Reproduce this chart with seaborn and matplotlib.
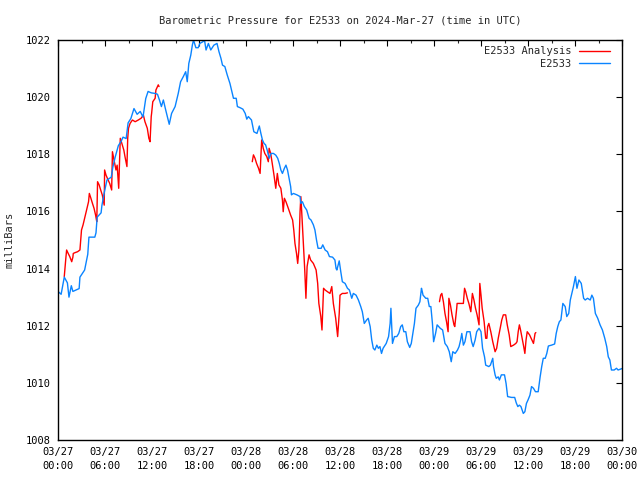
import numpy as np
import pandas as pd
import matplotlib
matplotlib.use("Agg")
import matplotlib.pyplot as plt
import matplotlib.dates as mdates
import seaborn as sns

# ---- data: hours since 2024-03-27 00:00 UTC, pressure in mbar ----
obs_hours = [0.0, 0.4, 0.8, 1.2, 1.4, 1.7, 1.9, 2.7, 2.8, 3.4, 3.8, 3.95, 4.7, 4.85, 5.0, 5.5, 5.6, 5.9,
             6.25, 6.8, 7.0, 7.3, 7.7, 8.05, 8.3, 8.7, 8.95, 9.3, 9.7, 10.1, 10.5, 10.85, 11.2, 11.5, 11.9,
             12.4, 12.7, 12.95, 13.2, 13.45, 13.75, 14.2, 14.5, 14.95, 15.35, 15.65, 16.0, 16.3, 16.5, 16.7,
             16.95, 17.15, 17.3, 17.6, 17.9, 18.1, 18.5, 18.7, 18.9, 19.2, 19.5, 19.9, 20.3, 20.55, 20.8,
             21.0, 21.3, 21.6, 21.95, 22.2, 22.4, 22.75, 22.9, 23.25, 23.6, 23.9, 24.1, 24.3, 24.7, 25.0,
             25.4, 25.7, 25.9, 26.1, 26.3, 26.5, 26.7, 26.95, 27.2, 27.5, 27.8, 28.05, 28.25, 28.45, 28.65,
             28.9, 29.1, 29.3, 29.5, 29.7, 29.8, 30.05, 30.5, 30.9, 31.0, 31.2, 31.45, 31.75, 32.05, 32.3,
             32.6, 32.8, 33.0, 33.2, 33.6, 33.8, 34.1, 34.4, 34.65, 35.05, 35.35, 35.5, 35.6, 35.9, 36.1,
             36.3, 36.65, 36.95, 37.2, 37.5, 37.7, 38.05, 38.35, 38.65, 38.85, 39.1, 39.4, 39.6, 39.85,
             40.05, 40.25, 40.45, 40.7, 40.9, 41.1, 41.3, 41.5, 41.9, 42.2, 42.4, 42.5, 42.7, 42.95, 43.25,
             43.5, 43.75, 43.95, 44.15, 44.4, 44.6, 44.9, 45.1, 45.3, 45.5, 45.7, 46.0, 46.2, 46.4, 46.5,
             46.6, 46.95, 47.2, 47.4, 47.6, 47.8, 47.95, 48.2, 48.4, 48.8, 49.1, 49.4, 49.7, 49.95, 50.2,
             50.4, 50.7, 51.0, 51.2, 51.4, 51.55, 51.75, 51.95, 52.2, 52.6, 52.8, 53.0, 53.25, 53.45, 53.75,
             54.0, 54.2, 54.45, 54.6, 55.0, 55.2, 55.5, 55.6, 55.8, 55.95, 56.2, 56.35, 56.6, 57.0, 57.2,
             57.4, 57.9, 58.3, 58.5, 58.7, 58.9, 59.1, 59.4, 59.6, 59.8, 60.0, 60.25, 60.45, 60.7, 60.95,
             61.3, 61.55, 61.75, 61.95, 62.2, 62.4, 62.6, 63.0, 63.4, 63.6, 63.8, 64.0, 64.2, 64.45, 64.75,
             64.95, 65.2, 65.4, 65.6, 65.8, 66.05, 66.25, 66.5, 66.8, 67.1, 67.3, 67.6, 67.95, 68.15, 68.35,
             68.6, 68.9, 69.2, 69.5, 69.8, 70.05, 70.25, 70.45, 70.65, 71.0, 71.3, 71.5, 72.0]
obs_mbar = [1013.2, 1013.1, 1013.7, 1013.5, 1013.0, 1013.4, 1013.2, 1013.3, 1013.7, 1013.95, 1014.5, 1015.1,
            1015.1, 1015.25, 1015.8, 1015.95, 1016.2, 1016.65, 1017.1, 1017.2, 1017.55, 1017.9, 1018.3,
            1018.45, 1018.6, 1018.55, 1019.1, 1019.25, 1019.6, 1019.4, 1019.5, 1019.3, 1019.95, 1020.2,
            1020.15, 1020.13, 1020.1, 1019.9, 1019.67, 1019.9, 1019.55, 1019.05, 1019.43, 1019.67, 1020.13,
            1020.54, 1020.72, 1020.89, 1020.54, 1021.18, 1021.47, 1021.82, 1022.0, 1021.73, 1021.73,
            1021.88, 1021.94, 1022.0, 1021.65, 1021.88, 1021.65, 1021.82, 1021.88, 1021.59, 1021.36,
            1021.12, 1021.07, 1020.78, 1020.48, 1020.19, 1019.96, 1019.96, 1019.67, 1019.63, 1019.58,
            1019.43, 1019.23, 1019.32, 1019.2, 1018.79, 1018.73, 1018.99, 1018.73, 1018.5, 1018.38,
            1018.33, 1018.15, 1017.86, 1018.03, 1018.03, 1017.97, 1017.86, 1017.68, 1017.45, 1017.33,
            1017.51, 1017.62, 1017.45, 1017.16, 1016.87, 1016.58, 1016.63, 1016.58, 1016.52, 1016.28,
            1016.34, 1016.17, 1016.05, 1015.76, 1015.7, 1015.53, 1015.35, 1015.0, 1014.71, 1014.71,
            1014.83, 1014.65, 1014.59, 1014.42, 1014.4, 1014.3, 1014.0, 1013.95, 1014.27, 1013.89, 1013.54,
            1013.48, 1013.31, 1013.25, 1012.96, 1013.13, 1013.07, 1012.9, 1012.67, 1012.49, 1012.08,
            1012.2, 1012.26, 1011.97, 1011.5, 1011.21, 1011.15, 1011.32, 1011.21, 1011.27, 1011.03,
            1011.21, 1011.38, 1011.62, 1012.08, 1012.61, 1011.38, 1011.62, 1011.62, 1011.73, 1011.97,
            1012.03, 1011.79, 1011.79, 1011.44, 1011.24, 1011.38, 1011.73, 1012.08, 1012.61, 1012.72,
            1012.84, 1013.31, 1013.2, 1013.07, 1012.96, 1012.96, 1012.67, 1012.67, 1012.08, 1011.44,
            1011.73, 1012.03, 1011.91, 1011.85, 1011.38, 1011.27, 1011.09, 1010.74, 1011.09, 1011.03,
            1011.15, 1011.27, 1011.5, 1011.73, 1011.32, 1011.44, 1011.79, 1011.79, 1011.44, 1011.27,
            1011.5, 1011.79, 1011.91, 1011.79, 1011.21, 1010.91, 1010.62, 1010.57, 1010.62, 1010.86,
            1010.57, 1010.28, 1010.16, 1010.21, 1010.1, 1010.28, 1010.28, 1009.98, 1009.52, 1009.49,
            1009.49, 1009.3, 1009.17, 1009.22, 1009.17, 1008.93, 1008.99, 1009.28, 1009.4, 1009.57,
            1009.87, 1009.81, 1009.69, 1009.69, 1010.21, 1010.57, 1010.86, 1010.86, 1011.03, 1011.29,
            1011.32, 1011.36, 1011.73, 1011.97, 1012.14, 1012.2, 1012.78, 1012.67, 1012.32, 1012.43,
            1012.9, 1013.13, 1013.37, 1013.72, 1013.31, 1013.6, 1013.48, 1012.96, 1012.9, 1012.96, 1012.9,
            1013.07, 1012.96, 1012.43, 1012.26, 1012.03, 1011.85, 1011.56, 1011.27, 1010.91, 1010.8,
            1010.45, 1010.45, 1010.51, 1010.45, 1010.5]

an1_hours = [0.8, 1.0, 1.1, 1.3, 1.5, 1.75, 1.9, 1.95, 2.2, 2.5, 2.8, 3.0, 3.2, 3.45, 3.65, 3.9, 4.0, 4.2,
             4.4, 4.6, 4.8, 4.95, 5.05, 5.25, 5.45, 5.65, 5.9, 5.95, 6.13, 6.4, 6.6, 6.85, 6.95, 7.15, 7.4,
             7.55, 7.75, 7.95, 8.15, 8.4, 8.55, 8.8, 8.9, 9.0, 9.2, 9.5, 9.85, 10.25, 10.6, 10.9, 11.1, 11.4,
             11.6, 11.75, 11.9, 11.95, 12.1, 12.4, 12.5, 12.8, 12.9]
an1_mbar = [1013.72, 1014.36, 1014.65, 1014.53, 1014.42, 1014.24, 1014.4, 1014.53, 1014.56, 1014.59, 1014.65,
            1015.35, 1015.53, 1015.82, 1016.05, 1016.34, 1016.63, 1016.46, 1016.28, 1016.11, 1015.87,
            1015.64, 1017.04, 1016.93, 1016.75, 1016.58, 1016.22, 1017.45, 1017.27, 1017.1, 1016.98,
            1016.75, 1018.09, 1017.8, 1017.45, 1017.62, 1016.81, 1018.56, 1018.38, 1018.15, 1017.92,
            1017.57, 1018.56, 1018.91, 1019.08, 1019.2, 1019.14, 1019.2, 1019.26, 1019.37, 1019.14,
            1018.91, 1018.56, 1018.44, 1019.32, 1019.43, 1019.84, 1019.96, 1020.25, 1020.43, 1020.37]

an2_hours = [24.8, 24.95, 25.15, 25.35, 25.6, 25.8, 25.9, 26.0, 26.2, 26.4, 26.65, 26.85, 26.95, 27.15,
             27.35, 27.6, 27.8, 28.0, 28.2, 28.45, 28.65, 28.75, 28.9, 29.1, 29.4, 29.7, 29.95, 30.1, 30.25,
             30.45, 30.6, 30.75, 30.9, 31.0, 31.1, 31.3, 31.5, 31.65, 31.8, 32.05, 32.25, 32.6, 32.95, 33.15,
             33.3, 33.55, 33.7, 33.9, 34.1, 34.4, 34.72, 34.95, 35.15, 35.45, 35.7, 35.9, 36.0, 36.3, 36.65,
             36.95]
an2_mbar = [1017.74, 1017.98, 1017.86, 1017.68, 1017.51, 1017.33, 1017.92, 1018.5, 1018.21, 1018.03,
            1017.92, 1017.74, 1018.21, 1018.03, 1017.68, 1017.22, 1016.81, 1017.33, 1016.93, 1016.81,
            1016.4, 1015.99, 1016.46, 1016.34, 1016.11, 1015.87, 1015.7, 1015.35, 1014.88, 1014.53,
            1014.18, 1014.65, 1015.99, 1016.52, 1016.05, 1015.0, 1013.95, 1012.96, 1014.07, 1014.48,
            1014.3, 1014.18, 1013.95, 1013.48, 1012.78, 1012.32, 1011.85, 1013.31, 1013.25, 1013.19,
            1013.13, 1013.37, 1012.78, 1012.26, 1011.62, 1012.43, 1013.07, 1013.13, 1013.13, 1013.15]

an3_hours = [48.7, 48.85, 49.0, 49.2, 49.4, 49.6, 49.8, 49.9, 50.1, 50.3, 50.55, 50.65, 50.9, 50.95, 51.75,
             51.9, 52.05, 52.25, 52.45, 52.7, 52.9, 53.1, 53.3, 53.5, 53.75, 53.85, 54.0, 54.15, 54.4, 54.6,
             54.75, 54.85, 55.0, 55.25, 55.5, 55.8, 56.0, 56.2, 56.45, 56.65, 56.85, 57.15, 57.35, 57.6,
             57.8, 58.15, 58.45, 58.6, 58.75, 58.9, 59.05, 59.25, 59.45, 59.6, 59.75, 59.9, 60.2, 60.5,
             60.7, 60.9, 61.0]
an3_mbar = [1012.84, 1013.07, 1013.13, 1012.84, 1012.43, 1012.14, 1011.79, 1012.96, 1012.72, 1012.38,
            1012.03, 1011.97, 1012.61, 1012.78, 1012.78, 1013.31, 1013.19, 1012.96, 1012.78, 1012.49,
            1013.13, 1012.9, 1012.61, 1012.38, 1012.03, 1013.48, 1013.07, 1012.61, 1012.14, 1011.56,
            1011.56, 1011.97, 1012.08, 1011.79, 1011.44, 1011.09, 1011.21, 1011.56, 1011.91, 1012.2,
            1012.38, 1012.38, 1012.03, 1011.68, 1011.27, 1011.32, 1011.38, 1011.44, 1011.79, 1012.03,
            1011.85, 1011.56, 1011.27, 1011.03, 1011.5, 1011.79, 1011.68, 1011.5, 1011.38, 1011.73,
            1011.76]

start = pd.Timestamp("2024-03-27 00:00")
y_ticks = [1008, 1010, 1012, 1014, 1016, 1018, 1020, 1022]
title = "Barometric Pressure for E2533 on 2024-Mar-27 (time in UTC)"
ylabel = "milliBars"
label_analysis = "E2533 Analysis"
label_obs = "E2533"

obs = pd.DataFrame({"time": start + pd.to_timedelta(obs_hours, unit="h"), "mbar": obs_mbar})
an = pd.concat([
    pd.DataFrame({"time": start + pd.to_timedelta(h, unit="h"), "mbar": m, "seg": i})
    for i, (h, m) in enumerate([(an1_hours, an1_mbar), (an2_hours, an2_mbar), (an3_hours, an3_mbar)])
], ignore_index=True)

sns.set_style("white")
plt.rcParams["font.family"] = ["DejaVu Sans Mono"]
plt.rcParams["font.size"] = 7.5

fig = plt.figure(figsize=(6.4, 4.8), dpi=100)
ax = fig.add_axes([58 / 640, 40 / 480, 564 / 640, 400 / 480])

red = "#ff0000"
blue = "#0a84ff"
sns.lineplot(data=an, x="time", y="mbar", units="seg", estimator=None, sort=False,
             color=red, linewidth=1.0, ax=ax, label=label_analysis)
sns.lineplot(data=obs, x="time", y="mbar", estimator=None, sort=False,
             color=blue, linewidth=1.0, ax=ax, label=label_obs)

ax.set_xlim(start, start + pd.Timedelta(hours=72))
ax.set_ylim(1008, 1022)
ax.set_yticks(y_ticks)
ax.set_yticklabels([str(v) for v in y_ticks])
ax.xaxis.set_major_locator(mdates.HourLocator(byhour=[0, 6, 12, 18]))
ax.xaxis.set_minor_locator(mdates.HourLocator(byhour=[3, 9, 15, 21]))
ax.xaxis.set_major_formatter(mdates.DateFormatter("%m/%d\n%H:%M"))

ax.tick_params(which="major", direction="in", length=4.5, width=0.8, top=True, right=True,
               labelsize=7.5, colors="black", pad=5)
ax.tick_params(which="minor", direction="in", length=2.5, width=0.8, top=True, right=True)
for lbl in ax.get_xticklabels():
    lbl.set_linespacing(1.5)
for s in ax.spines.values():
    s.set_color("black")
    s.set_linewidth(1.0)

ax.set_xlabel("")
ax.set_ylabel(ylabel, fontsize=7.5, labelpad=8)
ax.set_title(title, fontsize=7.5, pad=12)

handles, labels = ax.get_legend_handles_labels()
uniq = dict(zip(labels, handles))
leg = ax.legend(list(uniq.values()), list(uniq.keys()), loc="upper right", frameon=False,
                markerfirst=False, fontsize=7.5, handlelength=3.0, handletextpad=0.7,
                labelspacing=0.25, borderaxespad=0.2, bbox_to_anchor=(0.99, 1.0))

fig.savefig("out.png", dpi=100)
